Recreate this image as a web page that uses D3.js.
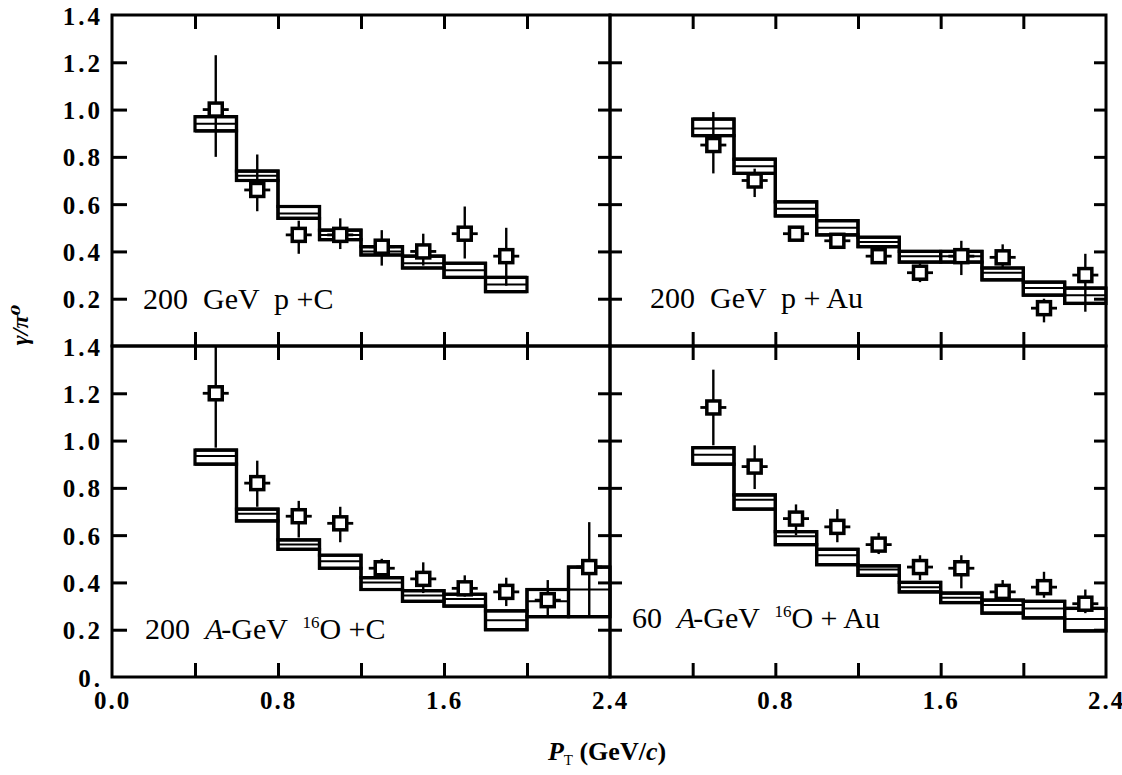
<!DOCTYPE html>
<html>
<head>
<meta charset="utf-8">
<script src="https://cdn.jsdelivr.net/npm/d3@7"></script>
<style>
  body { margin: 0; background: #fff; }
  text { font-family: "Liberation Serif", "DejaVu Serif", serif; fill: #000; }
</style>
</head>
<body>
<div class="container"></div>
<script>
// bin edges of the model histograms (GeV/c)
var edges8 = [0.4, 0.6, 0.8, 1.0, 1.2, 1.4, 1.6, 1.8, 2.0];
var edges10 = [0.4, 0.6, 0.8, 1.0, 1.2, 1.4, 1.6, 1.8, 2.0, 2.2, 2.4];
var pointX8 = [0.5, 0.7, 0.9, 1.1, 1.3, 1.5, 1.7, 1.9];
var pointX10 = [0.5, 0.7, 0.9, 1.1, 1.3, 1.5, 1.7, 1.9, 2.1, 2.3];

// 200 GeV p+C
var upperPC = [0.97, 0.74, 0.59, 0.49, 0.42, 0.38, 0.35, 0.29];
var midPC   = [0.94, 0.72, 0.56, 0.47, 0.40, 0.35, 0.32, 0.26];
var lowerPC = [0.91, 0.70, 0.54, 0.45, 0.385, 0.33, 0.29, 0.23];
var yPC     = [1.00, 0.66, 0.47, 0.47, 0.42, 0.40, 0.475, 0.38];
var loPC    = [0.80, 0.57, 0.39, 0.41, 0.34, 0.34, 0.37, 0.255];
var hiPC    = [1.23, 0.81, 0.53, 0.54, 0.49, 0.475, 0.59, 0.50];

// 200 GeV p+Au
var upperPAu = [0.96, 0.79, 0.61, 0.53, 0.46, 0.40, 0.40, 0.33, 0.27, 0.245];
var midPAu   = [0.92, 0.76, 0.58, 0.50, 0.44, 0.38, 0.38, 0.31, 0.245, 0.215];
var lowerPAu = [0.89, 0.73, 0.55, 0.47, 0.42, 0.355, 0.355, 0.28, 0.215, 0.18];
var yPAu     = [0.85, 0.70, 0.475, 0.445, 0.38, 0.31, 0.38, 0.375, 0.16, 0.30];
var loPAu    = [0.73, 0.63, 0.45, 0.42, 0.355, 0.27, 0.30, 0.33, 0.10, 0.145];
var hiPAu    = [0.99, 0.75, 0.50, 0.47, 0.405, 0.35, 0.445, 0.43, 0.20, 0.39];

// 200 A GeV 16O+C
var upperOC = [0.96, 0.71, 0.58, 0.515, 0.42, 0.365, 0.35, 0.28, 0.37, 0.465];
var midOC   = [0.935, 0.69, 0.56, 0.49, 0.40, 0.345, 0.33, 0.24, 0.32, 0.37];
var lowerOC = [0.90, 0.66, 0.54, 0.46, 0.37, 0.32, 0.30, 0.20, 0.255, 0.255];
var yOC     = [1.20, 0.82, 0.68, 0.65, 0.46, 0.415, 0.375, 0.36, 0.325, 0.465];
var loOC    = [0.97, 0.72, 0.59, 0.57, 0.42, 0.355, 0.34, 0.30, 0.26, 0.26];
var hiOC    = [1.40, 0.915, 0.745, 0.72, 0.50, 0.485, 0.43, 0.42, 0.41, 0.655];

// 60 A GeV 16O+Au
var upperOAu = [0.97, 0.77, 0.615, 0.54, 0.47, 0.40, 0.355, 0.325, 0.32, 0.29];
var midOAu   = [0.94, 0.75, 0.595, 0.515, 0.455, 0.38, 0.335, 0.305, 0.29, 0.245];
var lowerOAu = [0.90, 0.71, 0.56, 0.475, 0.43, 0.36, 0.315, 0.27, 0.25, 0.195];
var yOAu     = [1.14, 0.89, 0.67, 0.635, 0.56, 0.465, 0.46, 0.36, 0.38, 0.31];
var loOAu    = [0.98, 0.795, 0.60, 0.57, 0.52, 0.41, 0.375, 0.33, 0.335, 0.27];
var hiOAu    = [1.30, 0.98, 0.73, 0.71, 0.61, 0.515, 0.515, 0.41, 0.445, 0.37];

var xTicks = [0.4, 0.8, 1.2, 1.6, 2.0];
var yTicks = [0.2, 0.4, 0.6, 0.8, 1.0, 1.2];
var yLabelsTop = [0.2, 0.4, 0.6, 0.8, 1.0, 1.2, 1.4];
var yLabelsBottom = [0, 0.2, 0.4, 0.6, 0.8, 1.0, 1.2, 1.4];
var xLabelsLeft = [0, 0.8, 1.6, 2.4];
var xLabelsRight = [0.8, 1.6, 2.4];

const WIDTH = 1122;
const HEIGHT = 775;
const COLS = [112, 610, 1106];
const ROWS = [15, 346, 677];

var panels = [
  {col: 0, row: 0, edges: edges8, upper: upperPC, mid: midPC, lower: lowerPC,
   px: pointX8, py: yPC, lo: loPC, hi: hiPC,
   label: [{t: "200  GeV  p +C"}], lx: 143, ly: 309},
  {col: 1, row: 0, edges: edges10, upper: upperPAu, mid: midPAu, lower: lowerPAu,
   px: pointX10, py: yPAu, lo: loPAu, hi: hiPAu,
   label: [{t: "200  GeV  p + Au"}], lx: 650, ly: 308},
  {col: 0, row: 1, edges: edges10, upper: upperOC, mid: midOC, lower: lowerOC,
   px: pointX10, py: yOC, lo: loOC, hi: hiOC,
   label: [{t: "200  "}, {t: "A", italic: true}, {t: "-GeV  ", dx: -2}, {t: "16", sup: true}, {t: "O +C", dy: 11}],
   lx: 145, ly: 639},
  {col: 1, row: 1, edges: edges10, upper: upperOAu, mid: midOAu, lower: lowerOAu,
   px: pointX10, py: yOAu, lo: loOAu, hi: hiOAu,
   label: [{t: "60  "}, {t: "A", italic: true}, {t: "-GeV  ", dx: -2}, {t: "16", sup: true}, {t: "O + Au", dy: 11}],
   lx: 632, ly: 628}
];

var translate = function (x, y) {
  return "translate(" + x + "," + y + ")";
};

var svg = d3.select('.container').append('svg')
  .attr('width', WIDTH)
  .attr('height', HEIGHT);

var steps = function (edges, values) {
  var pts = [];
  values.forEach(function (v, i) {
    pts.push([edges[i], v]);
    pts.push([edges[i + 1], v]);
  });
  return pts;
};

var drawPanel = function (p) {
  var xScale = d3.scaleLinear().domain([0, 2.4]).range([COLS[p.col], COLS[p.col + 1]]);
  var yScale = d3.scaleLinear().domain([0, 1.4]).range([ROWS[p.row + 1], ROWS[p.row]]);
  var g = svg.append('g');

  var line = d3.line()
    .x(function (d) { return xScale(d[0]); })
    .y(function (d) { return yScale(d[1]); });

  // model bands: box per bin plus upper / middle / lower step lines
  var bins = p.upper.map(function (u, i) {
    return {x0: p.edges[i], x1: p.edges[i + 1], u: u, l: p.lower[i]};
  });
  g.selectAll('rect.bin')
    .data(bins)
    .enter().append('rect')
    .attr('class', 'bin')
    .attr('x', function (d) { return xScale(d.x0); })
    .attr('y', function (d) { return yScale(d.u); })
    .attr('width', function (d) { return xScale(d.x1) - xScale(d.x0); })
    .attr('height', function (d) { return yScale(d.l) - yScale(d.u); })
    .attr('fill', 'none')
    .attr('stroke', '#000')
    .attr('stroke-width', 3.2);

  [p.upper, p.lower].forEach(function (vals) {
    g.append('path')
      .datum(steps(p.edges, vals))
      .attr('d', line)
      .attr('fill', 'none')
      .attr('stroke', '#000')
      .attr('stroke-width', 3.2);
  });
  g.append('path')
    .datum(steps(p.edges, p.mid))
    .attr('d', line)
    .attr('fill', 'none')
    .attr('stroke', '#000')
    .attr('stroke-width', 2);

  // data points
  var pts = p.px.map(function (x, i) {
    return {x: x, y: p.py[i], lo: p.lo[i], hi: p.hi[i]};
  });
  var pg = g.selectAll('g.pt')
    .data(pts)
    .enter().append('g')
    .attr('class', 'pt');
  pg.append('line')
    .attr('x1', function (d) { return xScale(d.x); })
    .attr('x2', function (d) { return xScale(d.x); })
    .attr('y1', function (d) { return yScale(d.hi); })
    .attr('y2', function (d) { return yScale(d.lo); })
    .attr('stroke', '#000')
    .attr('stroke-width', 2.4);
  pg.append('line')
    .attr('x1', function (d) { return xScale(d.x) - 13; })
    .attr('x2', function (d) { return xScale(d.x) + 13; })
    .attr('y1', function (d) { return yScale(d.y); })
    .attr('y2', function (d) { return yScale(d.y); })
    .attr('stroke', '#000')
    .attr('stroke-width', 2.8);
  pg.append('rect')
    .attr('x', function (d) { return xScale(d.x) - 6.5; })
    .attr('y', function (d) { return yScale(d.y) - 6.5; })
    .attr('width', 13)
    .attr('height', 13)
    .attr('fill', '#fff')
    .attr('stroke', '#000')
    .attr('stroke-width', 3.5);

  // frame
  g.append('rect')
    .attr('x', COLS[p.col])
    .attr('y', ROWS[p.row])
    .attr('width', COLS[p.col + 1] - COLS[p.col])
    .attr('height', ROWS[p.row + 1] - ROWS[p.row])
    .attr('fill', 'none')
    .attr('stroke', '#000')
    .attr('stroke-width', 3);

  // inward ticks on all four sides
  var tickAxis = function (axis, x, y, size) {
    g.append('g')
      .attr('transform', translate(x, y))
      .call(axis.tickFormat('').tickSizeInner(size).tickSizeOuter(0))
      .call(function (s) {
        s.select('.domain').remove();
        s.selectAll('.tick line').attr('stroke', '#000').attr('stroke-width', 3);
      });
  };
  tickAxis(d3.axisBottom(xScale).tickValues(xTicks), 0, ROWS[p.row + 1], -14);
  tickAxis(d3.axisTop(xScale).tickValues(xTicks), 0, ROWS[p.row], -14);
  tickAxis(d3.axisLeft(yScale).tickValues(yTicks), COLS[p.col], 0, p.col === 0 ? -15 : -12);
  tickAxis(d3.axisRight(yScale).tickValues(yTicks), COLS[p.col + 1], 0, -12);

  // tick labels
  if (p.col === 0) {
    g.append('g')
      .attr('transform', translate(COLS[0], 0))
      .call(d3.axisLeft(yScale)
        .tickValues(p.row === 0 ? yLabelsTop : yLabelsBottom)
        .tickSize(0).tickPadding(9)
        .tickFormat(function (d) { return d === 0 ? "0." : d3.format('.1f')(d); }))
      .call(function (s) {
        s.select('.domain').remove();
        s.selectAll('text')
          .style('font-family', '"Liberation Serif", serif')
          .style('font-weight', 'bold')
          .style('font-size', '25px')
          .style('letter-spacing', '3px')
          .attr('dy', '0.36em');
      });
  }
  if (p.row === 1) {
    g.append('g')
      .attr('transform', translate(0, ROWS[2]))
      .call(d3.axisBottom(xScale)
        .tickValues(p.col === 0 ? xLabelsLeft : xLabelsRight)
        .tickSize(0).tickPadding(14)
        .tickFormat(d3.format('.1f')))
      .call(function (s) {
        s.select('.domain').remove();
        s.selectAll('text')
          .style('font-family', '"Liberation Serif", serif')
          .style('font-weight', 'bold')
          .style('font-size', '25px')
          .style('letter-spacing', '2px');
      });
  }

  // panel caption
  var t = g.append('text')
    .attr('x', p.lx)
    .attr('y', p.ly)
    .style('font-size', '30px')
    .style('white-space', 'pre');
  p.label.forEach(function (part) {
    var s = t.append('tspan').text(part.t);
    if (part.italic) s.style('font-style', 'italic');
    if (part.dx) s.attr('dx', part.dx);
    if (part.sup) s.attr('dy', -11).style('font-size', '17px');
    if (part.dy) s.attr('dy', part.dy);
  });
};

panels.forEach(drawPanel);

// axis titles
svg.append('text')
  .attr('transform', translate(28, 325) + ' rotate(-90)')
  .attr('text-anchor', 'middle')
  .style('font-size', '24px')
  .style('font-style', 'italic')
  .style('font-weight', 'bold')
  .text('γ/π⁰');

var xt = svg.append('text')
  .attr('x', 607)
  .attr('y', 760)
  .attr('text-anchor', 'middle')
  .style('font-size', '26px')
  .style('font-weight', 'bold');
xt.append('tspan').text('P').style('font-style', 'italic');
xt.append('tspan').text('T').attr('dy', 5).style('font-size', '15px').style('font-weight', 'normal');
xt.append('tspan').text(' (GeV/').attr('dy', -5);
xt.append('tspan').text('c').style('font-style', 'italic');
xt.append('tspan').text(')');
</script>
</body>
</html>
